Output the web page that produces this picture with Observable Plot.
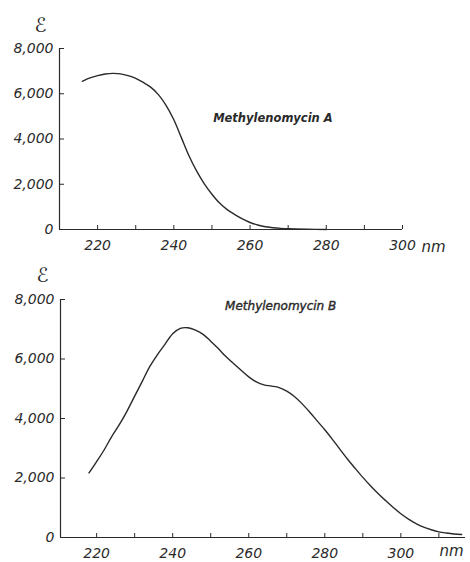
<!DOCTYPE html>
<html>
<head>
<meta charset="utf-8">
<script src="https://cdn.jsdelivr.net/npm/d3@7"></script>
<script src="https://cdn.jsdelivr.net/npm/@observablehq/plot@0.6"></script>
<style>
  html, body { margin: 0; padding: 0; background: #fff; }
  #chart { width: 470px; }
  #chart svg { display: block; }
</style>
</head>
<body>
<div id="chart"></div>
<script>
// ---- Data ----
const wavelengthA = [216, 218, 220, 222, 224, 226, 228, 230, 232, 234, 236, 238, 240, 242, 244, 246, 248, 250, 252, 254, 256, 258, 260, 262, 264, 266, 268, 270, 275, 280];
const epsilonA    = [6550, 6700, 6800, 6870, 6900, 6880, 6800, 6680, 6500, 6280, 5950, 5480, 4850, 4050, 3250, 2580, 2020, 1560, 1170, 880, 660, 470, 310, 200, 120, 80, 50, 30, 10, 0];

const wavelengthB = [218, 220, 222, 224, 226, 228, 230, 232, 234, 236, 238, 240, 242, 244, 246, 248, 250, 252, 254, 256, 258, 260, 262, 264, 266, 268, 270, 272, 274, 276, 278, 280, 282, 284, 286, 288, 290, 292, 294, 296, 298, 300, 302, 304, 306, 308, 310, 312, 314, 316];
const epsilonB    = [2170, 2550, 2950, 3400, 3800, 4250, 4750, 5250, 5750, 6150, 6500, 6850, 7030, 7050, 6970, 6830, 6600, 6350, 6080, 5850, 5620, 5400, 5230, 5130, 5090, 5040, 4920, 4740, 4500, 4220, 3920, 3620, 3300, 2960, 2630, 2320, 2020, 1740, 1480, 1240, 1010, 800, 620, 470, 350, 260, 190, 150, 120, 100];

const yTicks = [0, 2000, 4000, 6000, 8000];
const xTicksA = [220, 230, 240, 250, 260, 270, 280, 290, 300];
const xLabelsA = [220, 240, 260, 280, 300];
const xTicksB = [220, 230, 240, 250, 260, 270, 280, 290, 300, 310];
const xLabelsB = [220, 240, 260, 280, 300];
const nameA = "Methylenomycin A";
const nameB = "Methylenomycin B";
const labelPosA = [266, 4910];
const labelPosB = [268.4, 7770];
const yTitle = "ℰ";
const unit = "nm";

const dataA = wavelengthA.map((w, i) => ({w, e: epsilonA[i]}));
const dataB = wavelengthB.map((w, i) => ({w, e: epsilonB[i]}));

const ink = "#2a2a2a";
const fontFam = "'DejaVu Sans', sans-serif";
const fmt = d => d === 0 ? "0" : d3.format(",")(d);

function panel({data, xDomain, ticks, labels, width, height, mt, mb, ml, mr, name, pos, nameWeight, nameSize, nameStroke, tdx, tdy, ndx, ndy}) {
  return Plot.plot({
    width, height,
    marginTop: mt, marginBottom: mb, marginLeft: ml, marginRight: mr,
    style: {fontFamily: fontFam, fontSize: "14px", color: ink, background: "#fff", overflow: "visible"},
    x: {domain: xDomain, label: null},
    y: {domain: [0, 8000], label: null},
    marks: [
      Plot.ruleX([xDomain[0]], {stroke: ink, strokeWidth: 1.2}),
      Plot.ruleY([0], {stroke: ink, strokeWidth: 1.2}),
      Plot.axisY({ticks: yTicks, tickSize: -5, text: null, stroke: ink, label: null}),
      Plot.axisY({ticks: yTicks, tickSize: 0, tickPadding: 6, tickFormat: fmt, fill: ink, fontSize: 14, label: null, fontStyle: "italic"}),
      Plot.axisX({ticks, tickSize: -4, text: null, stroke: ink, label: null}),
      Plot.axisX({ticks: labels, tickSize: 0, tickPadding: 11, tickFormat: d => String(d), fill: ink, fontSize: 14, label: null, fontStyle: "italic", letterSpacing: 0.8}),
      Plot.line(data, {x: "w", y: "e", curve: "catmull-rom", stroke: ink, strokeWidth: 1.4}),
      Plot.text([name], {x: pos[0], y: pos[1], text: d => d, fontSize: nameSize, fontWeight: nameWeight, fontStyle: "italic", fill: ink, stroke: ink, strokeWidth: nameStroke, letterSpacing: 0.8}),
      Plot.text([yTitle], {frameAnchor: "top-left", dx: tdx, dy: tdy, text: d => d, fontSize: 20, fontStyle: "italic", fill: ink, textAnchor: "middle", lineAnchor: "middle"}),
      Plot.text([unit], {frameAnchor: "bottom-right", dx: ndx, dy: ndy, text: d => d, fontSize: 15, fontStyle: "italic", fill: ink, textAnchor: "start", lineAnchor: "middle"})
    ]
  });
}

const topPanel = panel({
  data: dataA, xDomain: [210, 300], ticks: xTicksA, labels: xLabelsA,
  width: 470, height: 262, mt: 48, mb: 33, ml: 59, mr: 68,
  name: nameA, pos: labelPosA, nameWeight: "bold", nameSize: 11.5, nameStroke: 0,
  tdx: -19, tdy: -23, ndx: 19, ndy: 18
});
const bottomPanel = panel({
  data: dataB, xDomain: [210.5, 317], ticks: xTicksB, labels: xLabelsB,
  width: 470, height: 300, mt: 37, mb: 25, ml: 60, mr: 5,
  name: nameB, pos: labelPosB, nameWeight: "normal", nameSize: 12, nameStroke: 0.4,
  tdx: -18, tdy: -24, ndx: -26, ndy: 14
});
document.getElementById("chart").append(topPanel, bottomPanel);
</script>
</body>
</html>
